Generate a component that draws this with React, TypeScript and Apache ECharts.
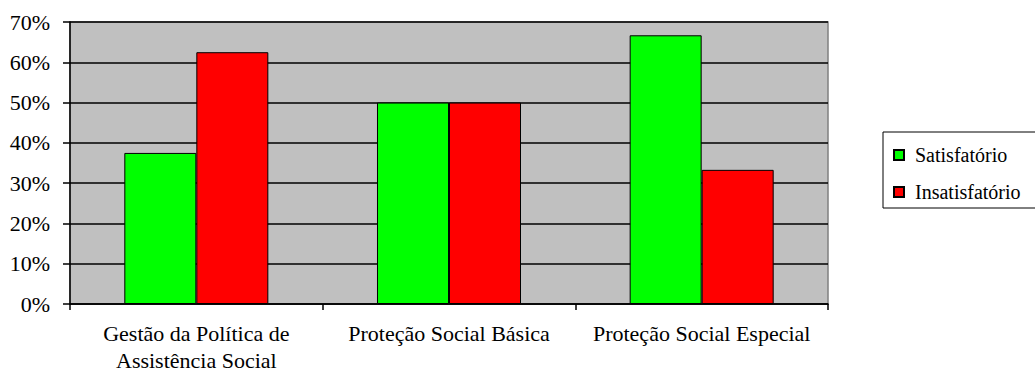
import React, { useEffect, useRef } from "react";
import * as echarts from "echarts";

const categories = [
  "Gestão da Política de\nAssistência Social",
  "Proteção Social Básica",
  "Proteção Social Especial",
];
const satisfatorio = [37.5, 50, 66.7];
const insatisfatorio = [62.5, 50, 33.3];
const seriesNames = ["Satisfatório", "Insatisfatório"];

const FONT = "Liberation Serif";

export default function App() {
  const ref = useRef<HTMLDivElement>(null);
  useEffect(() => {
    if (!ref.current) return;
    const chart = echarts.init(ref.current, null, { renderer: "svg" });
    chart.setOption({
      animation: false,
      backgroundColor: "#ffffff",
      textStyle: { fontFamily: FONT },
      grid: {
        left: 70,
        right: 207,
        top: 22,
        bottom: 70,
        containLabel: false,
        outerBoundsMode: "none",
        show: true,
        backgroundColor: "#c0c0c0",
        borderColor: "#808080",
        borderWidth: 1.5,
      },
      legend: {
        orient: "vertical",
        left: 883,
        top: 132,
        padding: [13, 19, 6, 10],
        itemGap: 17,
        itemWidth: 10,
        itemHeight: 10,
        icon: "rect",
        borderColor: "#000",
        borderWidth: 1,
        data: seriesNames,
        textStyle: {
          fontFamily: FONT,
          fontSize: 20,
          color: "#000",
          padding: [0, 0, 0, 6],
        },
      },
      xAxis: {
        type: "category",
        data: categories,
        boundaryGap: true,
        axisLine: { lineStyle: { color: "#000", width: 1.5 } },
        axisTick: { show: true, length: 6, lineStyle: { color: "#000", width: 1.5 } },
        axisLabel: {
          fontFamily: FONT,
          fontSize: 22,
          color: "#000",
          margin: 16,
          lineHeight: 27,
          interval: 0,
        },
        splitLine: { show: false },
      },
      yAxis: {
        type: "value",
        min: 0,
        max: 70,
        interval: 10,
        axisLine: { show: true, lineStyle: { color: "#000", width: 1.5 } },
        axisTick: { show: true, length: 7, lineStyle: { color: "#000", width: 1.5 } },
        axisLabel: {
          formatter: "{value}%",
          fontFamily: FONT,
          fontSize: 22,
          color: "#000",
          margin: 20,
        },
        splitLine: { show: true, lineStyle: { color: "#000", width: 1.5 } },
      },
      series: [
        {
          name: seriesNames[0],
          type: "bar",
          data: satisfatorio,
          barGap: "0%",
          barCategoryGap: "43%",
          itemStyle: { color: "#00ff00", borderColor: "#000", borderWidth: 1 },
        },
        {
          name: seriesNames[1],
          type: "bar",
          data: insatisfatorio,
          barGap: "0%",
          barCategoryGap: "43%",
          itemStyle: { color: "#ff0000", borderColor: "#000", borderWidth: 1 },
        },
      ],
    });
    return () => chart.dispose();
  }, []);
  return (
    <div
      ref={ref}
      style={{ position: "absolute", left: 0, top: 0, width: 1035, height: 374 }}
    />
  );
}
